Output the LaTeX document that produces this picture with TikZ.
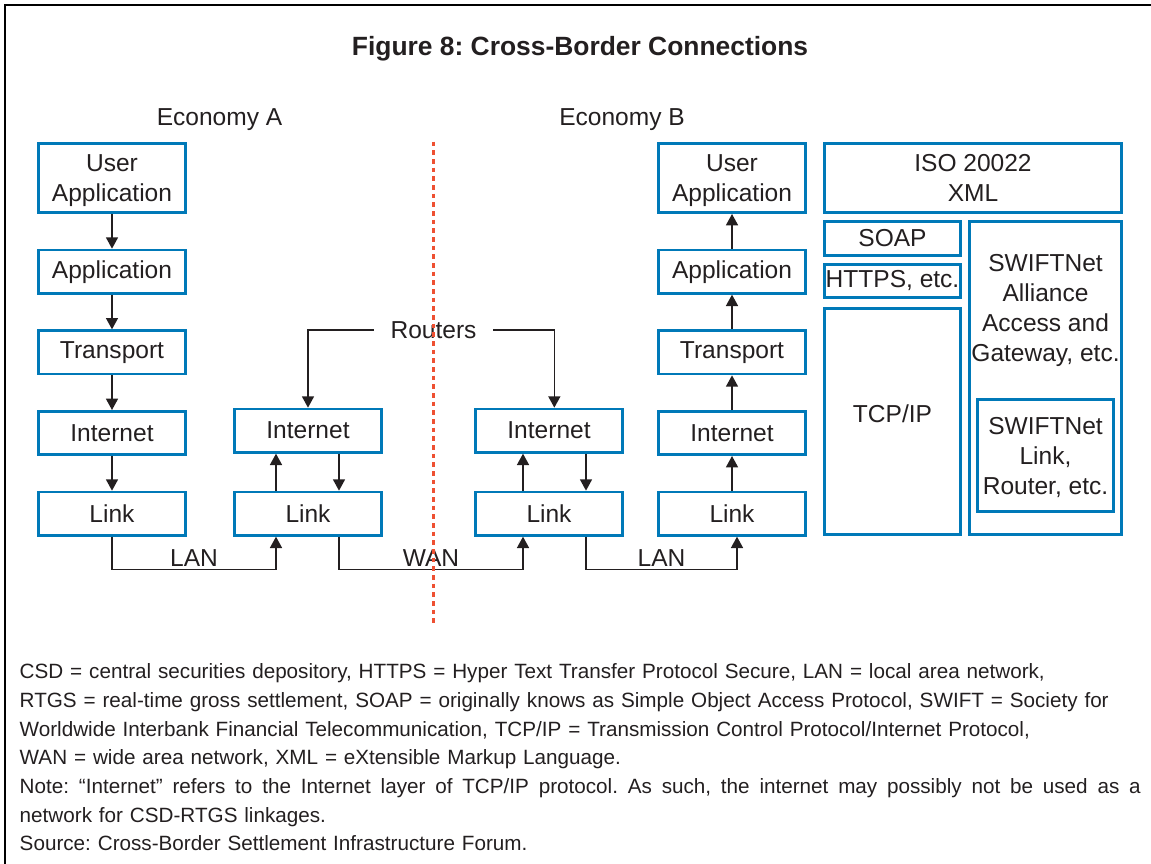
\documentclass[tikz,border=0pt]{standalone}
\usepackage{fontspec}
\setmainfont{Liberation Sans}
\usetikzlibrary{arrows.meta,positioning}
\frenchspacing

\definecolor{boxblue}{RGB}{0,121,184}
\definecolor{ink}{RGB}{35,31,32}
\definecolor{divred}{RGB}{238,80,50}
\newcommand{\boxfont}{\fontsize{18.4}{22.5}\selectfont}
\newcommand{\titlefont}{\fontsize{19.8}{24}\selectfont\bfseries}
\newcommand{\notefont}{\fontsize{15.5}{21.5}\selectfont}

\begin{document}
\begin{tikzpicture}[x=0.75pt,y=-0.75pt,->,>={Triangle[length=8.5pt,width=9pt]},
                    node distance=26pt,line width=1.1pt,color=ink]
  \tikzstyle{layer}=[draw=boxblue, line width=2pt, align=center, inner sep=1pt,
                     minimum width=110.5pt, minimum height=32.5pt, font=\boxfont]
  \tikzstyle{tall}=[layer, minimum height=52pt, text depth=0pt]
  \tikzstyle{lbl}=[font=\boxfont, inner sep=2pt]

 \useasboundingbox (0,0) rectangle (1151,863);
 \draw[-, black, line width=1.5pt] (4.5,5.5) rectangle (1160,870);

 \node[lbl, font=\titlefont, anchor=base](title) at (580,56) {Figure 8: Cross-Border Connections};
 \node[lbl, anchor=base](eco_a) at (219.5,126) {Economy A};
 \node[lbl, anchor=base](eco_b) at (622,126) {Economy B};

 % host in economy A
 \node[tall](a_ua) at (112,178) {User\\Application};
 \node[layer, below=of a_ua](a_app) {Application};
 \node[layer, below=of a_app](a_tr) {Transport};
 \node[layer, below=of a_tr](a_in) {Internet};
 \node[layer, below=of a_in](a_ln) {Link};

 % the two routers
 \node[layer, right=34.5pt of a_ln](ra_ln) {Link};
 \node[layer, above=27.75pt of ra_ln](ra_in) {Internet};
 \node[layer, right=68.25pt of ra_ln](rb_ln) {Link};
 \node[layer, above=27.75pt of rb_ln](rb_in) {Internet};

 % host in economy B
 \node[layer, right=24.75pt of rb_ln](b_ln) {Link};
 \node[layer, above=of b_ln](b_in) {Internet};
 \node[layer, above=of b_in](b_tr) {Transport};
 \node[layer, above=of b_tr](b_app) {Application};
 \node[tall, above=of b_app](b_ua) {User\\Application};

 % protocol stack
 \node[tall, minimum width=223pt, right=12pt of b_ua](iso) {ISO 20022\\XML};
 \node[layer, minimum width=102.25pt, minimum height=25.75pt,
       below=4.5pt of iso.south west, anchor=north west](soap) {SOAP};
 \node[layer, minimum width=102.25pt, minimum height=25pt,
       below=4.5pt of soap.south west, anchor=north west](https) {HTTPS, etc.};
 \node[layer, minimum width=102.25pt, minimum height=169.75pt,
       below=6pt of https.south west, anchor=north west](tcp) {};
 \node[lbl](tcp_txt) at ([yshift=6pt]tcp.center) {TCP/IP};
 \node[layer, minimum width=114.25pt, minimum height=235pt,
       below=4.5pt of iso.south east, anchor=north east](swift) {};
 \node[lbl, align=center, below=23.5pt of swift.north](swift_txt) {SWIFTNet\\Alliance\\Access and\\Gateway, etc.};
 \node[tall, minimum width=102.25pt, minimum height=84.25pt,
       above=17.25pt of swift.south, anchor=south](sw_link) {SWIFTNet\\Link,\\Router, etc.};

 \node[lbl, inner xsep=12pt](routers) at (433.5,330) {Routers};

 \path (a_ua) edge (a_app)
       (a_app) edge (a_tr)
       (a_tr) edge (a_in)
       (a_in) edge (a_ln)
       (b_ln) edge (b_in)
       (b_in) edge (b_tr)
       (b_tr) edge (b_app)
       (b_app) edge (b_ua)
       ([xshift=-24pt]ra_ln.north) edge ([xshift=-24pt]ra_in.south)
       ([xshift=23.25pt]ra_in.south) edge ([xshift=23.25pt]ra_ln.north)
       ([xshift=-19.5pt]rb_ln.north) edge ([xshift=-19.5pt]rb_in.south)
       ([xshift=27.75pt]rb_in.south) edge ([xshift=27.75pt]rb_ln.north);

 \draw (routers.west) -| (ra_in.north);
 \draw (routers.east) -| ([xshift=4pt]rb_in.north);

 \draw (a_ln.south) -- ++(0,33) -| node[lbl, above, pos=0.25] {LAN} ([xshift=-24pt]ra_ln.south);
 \draw ([xshift=23.25pt]ra_ln.south) -- ++(0,33) -| node[lbl, above, pos=0.25] {WAN} ([xshift=-19.5pt]rb_ln.south);
 \draw ([xshift=27.75pt]rb_ln.south) -- ++(0,33) -| node[lbl, above, pos=0.25] {LAN} ([xshift=3.75pt]b_ln.south);

 % border between the economies
 \coordinate (div_top) at (433.3,141.7);
 \coordinate (div_bot) at (433.3,622.7);
 \draw[-, divred, line width=2pt, dash pattern=on 3.5pt off 3pt] (div_top) -- (div_bot);

 \node[anchor=north west, inner sep=0pt, text width=840.75pt, align=left, font=\notefont](notes) at (19,663)
   {CSD = central securities depository, HTTPS = Hyper Text Transfer Protocol Secure, LAN = local area network,\\
    RTGS = real-time gross settlement, SOAP = originally knows as Simple Object Access Protocol, SWIFT = Society for\\
    Worldwide Interbank Financial Telecommunication, TCP/IP = Transmission Control Protocol/Internet Protocol,\\
    WAN = wide area network, XML = eXtensible Markup Language.\\
    \leavevmode\hbox to 840.75pt{\spaceskip=4.3pt plus 1fil\relax Note: “Internet” refers to the Internet layer of TCP/IP protocol. As such, the internet may possibly not be used as a}\\
    network for CSD-RTGS linkages.\\
    Source: Cross-Border Settlement Infrastructure Forum.};

\end{tikzpicture}
\end{document}
